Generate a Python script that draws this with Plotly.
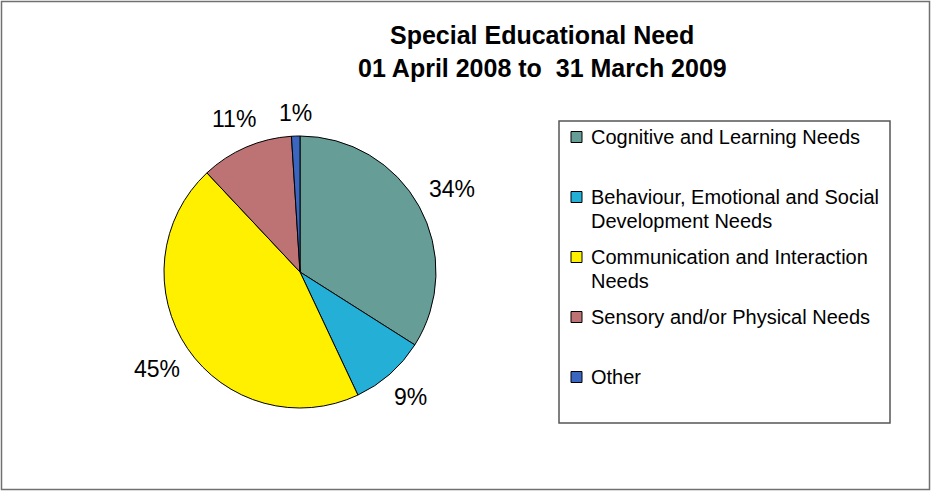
import math
import plotly.graph_objects as go

categories = ["Cognitive and Learning Needs",
              "Behaviour, Emotional and Social<br>Development Needs",
              "Communication and Interaction<br>Needs",
              "Sensory and/or Physical Needs",
              "Other"]
values = [34, 9, 45, 11, 1]
colors = ["#669D97", "#24B0D6", "#FFF000", "#BD7274", "#3A66C0"]
title_lines = ["Special Educational Need", "01 April 2008 to  31 March 2009"]

W, H = 931, 491
cx, cy, r = 300, 272, 136
FONT = "Liberation Sans, Arial, sans-serif"


def px(x):
    return x / W


def py(y):
    return 1 - y / H


fig = go.Figure(go.Pie(
    labels=categories, values=values, sort=False, direction="clockwise", rotation=0,
    marker=dict(colors=colors, line=dict(color="black", width=1)),
    textinfo="none",
    domain=dict(x=[px(cx - r), px(cx + r)], y=[py(cy + r), py(cy - r)]),
    automargin=False, showlegend=False, hoverinfo="label+percent",
))

annotations = []
shapes = []

# percentage labels placed outside each slice at its mid-angle
total = sum(values)
cum = 0
lab_size = 23
for v in values:
    mid = (cum + v / 2) / total * 2 * math.pi
    cum += v
    txt = f"{round(v / total * 100)}%"
    w = 0.56 * lab_size * (len(txt) - 1) + 0.89 * lab_size
    h = lab_size * 0.9
    ext = abs(math.sin(mid)) * w / 2 + abs(math.cos(mid)) * h / 2
    rl = r + 12 + ext
    lx = cx + rl * math.sin(mid)
    ly = cy - rl * math.cos(mid)
    annotations.append(dict(x=px(lx), y=py(ly), xref="paper", yref="paper", text=txt,
                            showarrow=False, xanchor="center", yanchor="middle",
                            font=dict(family=FONT, size=lab_size, color="black")))

# title
for i, t in enumerate(title_lines):
    annotations.append(dict(x=px(542), y=py(35 + 33 * i), xref="paper", yref="paper",
                            text=f"<b>{t}</b>", showarrow=False, xanchor="center",
                            yanchor="middle", font=dict(family=FONT, size=25, color="black")))

# legend
leg_x0, leg_y0, leg_x1, leg_y1 = 559, 121, 890, 423
shapes.append(dict(type="rect", xref="paper", yref="paper", x0=px(leg_x0), x1=px(leg_x1),
                   y0=py(leg_y1), y1=py(leg_y0), line=dict(color="#555555", width=1.5),
                   fillcolor="white", layer="below"))
for i, (cat, col) in enumerate(zip(categories, colors)):
    yc = 137 + 60 * i
    shapes.append(dict(type="rect", xref="paper", yref="paper", x0=px(571), x1=px(582),
                       y0=py(yc + 5.5), y1=py(yc - 5.5), fillcolor=col,
                       line=dict(color="black", width=1)))
    for j, line in enumerate(cat.split("<br>")):
        annotations.append(dict(x=px(589), y=py(yc + 24 * j), xref="paper", yref="paper",
                                text=line, showarrow=False, xanchor="left", yanchor="middle",
                                font=dict(family=FONT, size=20, color="black")))

# outer border
shapes.append(dict(type="rect", xref="paper", yref="paper", x0=px(1.5), x1=px(929.5),
                   y0=py(489.5), y1=py(1.5), line=dict(color="#707070", width=1.5)))

fig.update_layout(
    width=W, height=H, margin=dict(l=0, r=0, t=0, b=0),
    paper_bgcolor="white", plot_bgcolor="white",
    font=dict(family=FONT, color="black"),
    showlegend=False,
    annotations=annotations, shapes=shapes,
)

fig.write_html("out.html", config={"displayModeBar": False},
               post_script="document.body.style.margin='0';")
